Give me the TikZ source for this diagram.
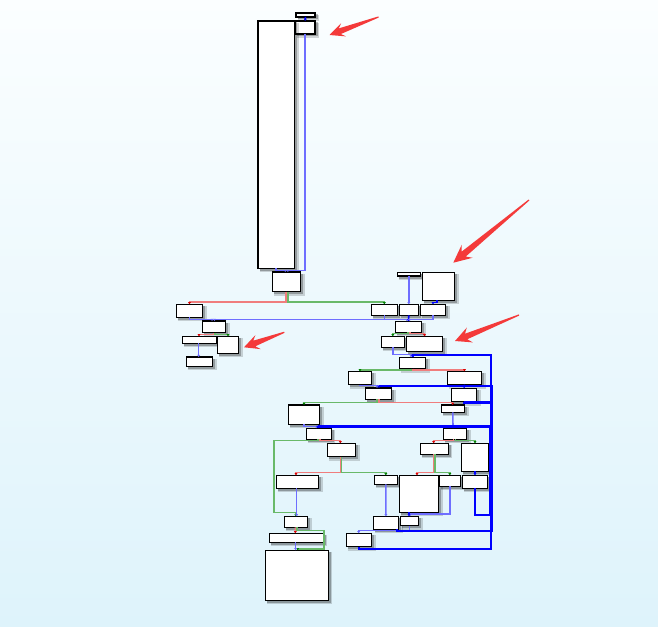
\documentclass[tikz,border=0pt]{standalone}
\usetikzlibrary{calc,arrows.meta}
\definecolor{lb}{RGB}{110,110,255}
\definecolor{db}{RGB}{0,0,255}
\definecolor{re}{RGB}{240,125,125}
\definecolor{gr}{RGB}{105,185,105}
\definecolor{arr}{RGB}{244,58,58}
\definecolor{bgtop}{RGB}{251,254,255}
\definecolor{bgbot}{RGB}{222,243,251}
\tikzset{
 box/.style={draw=black, line width=1.05pt, fill=white, rectangle, inner sep=0pt, outer sep=0pt},
 shadowA/.style={fill=black, opacity=0.16},
 shadowB/.style={fill=black, opacity=0.26},
 etip/.style={-{Triangle[length=2.2pt,width=2.8pt]}},
 elb/.style={draw=lb, line width=1.55pt, etip},
 edb/.style={draw=db, line width=1.6pt, etip},
 edbT/.style={draw=db, line width=2.3pt, -{Triangle[length=2.5pt,width=3.5pt]}},
 ere/.style={draw=re, line width=1.55pt, -{Triangle[length=2.2pt,width=2.8pt,color=red!85!black]}},
 egr/.style={draw=gr, line width=1.55pt, -{Triangle[length=2.2pt,width=2.8pt,color=green!50!black]}},
}
\newcommand\bx[5]{%
 \fill[shadowA] (#2+2,#3+2) rectangle (#4+4,#5+4);
 \fill[shadowB] (#2+1.5,#3+1.5) rectangle (#4+2.5,#5+2.5);
 \node[box, minimum width={(#4-#2)*1pt}, minimum height={(#5-#3)*1pt}] (#1) at ({(#2+#4)/2},{(#3+#5)/2}) {};}
% tailx, taily, tipx, tipy, headlen, barb half width, notch dist, shaft half width
\newcommand\redarr[8]{%
 \fill[arr] (#3,#4)
  -- ($(#3,#4)!#5pt!(#1,#2)!#6pt!90:(#1,#2)$)
  -- ($(#3,#4)!#7pt!(#1,#2)!#8pt!90:(#1,#2)$)
  -- ($(#1,#2)!0.6pt!-90:(#3,#4)$)
  -- ($(#1,#2)!0.6pt!90:(#3,#4)$)
  -- ($(#3,#4)!#7pt!(#1,#2)!#8pt!-90:(#1,#2)$)
  -- ($(#3,#4)!#5pt!(#1,#2)!#6pt!-90:(#1,#2)$) -- cycle;}
\begin{document}
\begin{tikzpicture}[x=1pt,y=-1pt]
\shade[top color=bgtop, bottom color=bgbot] (0,0) rectangle (658,626);
\useasboundingbox (0,0) rectangle (658,626);
% boxes
\bx{B0}{296}{13}{315}{17}
\bx{B1}{295}{21}{315}{34}
\bx{T}{258}{21}{294.5}{268.3}
\bx{B2}{272.3}{272}{300.5}{291.5}
\bx{B3}{176.3}{304.3}{202.7}{317.3}
\bx{B4}{202.3}{321}{225.7}{332.7}
\bx{B5}{182.3}{336.3}{216.7}{343.3}
\bx{B6}{217.3}{336.3}{238.7}{353.3}
\bx{B7}{186.3}{357}{212.7}{366.3}
\bx{R0}{397.3}{272.3}{420.3}{276}
\bx{Rb}{422.3}{272.3}{454.7}{300.3}
\bx{R1}{371.3}{304.3}{397.3}{315.3}
\bx{R2}{399.3}{304.3}{418.3}{315.3}
\bx{R3}{420.3}{304.3}{445.7}{315.3}
\bx{R4}{395.3}{321.3}{421.7}{332.3}
\bx{R5}{381.3}{336.3}{404.3}{347.3}
\bx{R6}{406.3}{336.3}{442.7}{351.3}
\bx{C0}{399.3}{357.3}{425.7}{368.7}
\bx{C1}{348.3}{371.3}{371.7}{384.7}
\bx{C2}{447.3}{371.3}{481.7}{384.7}
\bx{C3}{365.3}{388}{391.7}{399.3}
\bx{C5}{451.3}{388.3}{476.7}{401.5}
\bx{C4}{288.3}{405}{319.7}{424.3}
\bx{C6}{441.3}{405}{464.5}{412.3}
\bx{D0}{306.3}{428.3}{331.3}{439.3}
\bx{E0}{443.3}{428.3}{466.7}{439.3}
\bx{D1}{327.3}{443.3}{355.7}{456.7}
\bx{E1}{420.3}{443.3}{448.3}{454.3}
\bx{E2}{461.3}{443.3}{488.7}{471.3}
\bx{D2}{276.3}{475.3}{318.7}{488.3}
\bx{D4}{374.3}{475.3}{397.3}{484.3}
\bx{D5}{399.3}{475.3}{438.7}{512.3}
\bx{E3}{439.3}{475.3}{460.3}{486.3}
\bx{E4}{462.3}{475.3}{487.7}{488.3}
\bx{D3}{284.3}{516.3}{307.5}{527.3}
\bx{D6}{373.3}{516.3}{398.5}{529.3}
\bx{D7}{400.3}{516.3}{418.5}{525.5}
\bx{D8}{346.3}{533.3}{371.7}{546.5}
\bx{D9}{269.3}{533.3}{323.3}{542.3}
\bx{D10}{265.3}{550.3}{328.3}{600.3}
% edges, upper part
\draw[edb] (B0.south) -- (B1.north);
\draw[elb] (B1.south) -- ++(0,236.7) -| ([xshift=1.5]B2.north);
\draw[elb] (T.south) -- ++(0,2.4) -| ([xshift=-1.2]B2.north);
\draw[ere] ([xshift=-0.4]B2.south) -- ++(0,10.5) -| (B3.north);
\draw[egr] ([xshift=1.6]B2.south) -- ++(0,10.5) -| (R1.north);
\draw[elb] (B3.south) -- ++(0,2.2) -| ([xshift=-2]B4.north);
\draw[elb] (R1.south) -- ++(0,4.2) -| ([xshift=0.5]B4.north);
\draw[elb] (R1.south) -- ++(0,4.2) -| ([xshift=-1.5]R4.north);
\draw[ere] ([xshift=-0.7]B4.south) -- ++(0,1.6) -| ([xshift=-0.5]B5.north);
\draw[egr] ([xshift=0.8]B4.south) -- ++(0,1.6) -| (B6.north);
\draw[elb] ([xshift=-0.8]B5.south) -- ([xshift=-0.8]B7.north);
\draw[elb] (R0.south) -- (R2.north);
\draw[edb] ([xshift=-1.5]Rb.south) -- ++(0,2.2) -| (R3.north);
\draw[edb] (R2.south) -- (R4.north);
\draw[elb] (R3.south) -- ++(0,4.2) -| ([xshift=1]R4.north);
\draw[egr] ([xshift=-0.5]R4.south) -- ++(0,1.4) -| (R5.north);
\draw[ere] ([xshift=1.5]R4.south) -- ++(0,1.4) -| (R6.north);
\draw[elb] (R5.south) -- ++(0,7.4) -| ([xshift=-1.5]C0.north);
% middle
\draw[egr] ([xshift=-1.5]C0.south) -- ++(0,1.3) -| (C1.north);
\draw[ere] ([xshift=0.5]C0.south) -- ++(0,1.3) -| (C2.north);
\draw[elb] (C1.south) -- ++(0,1.0) -| ([xshift=-1.5]C3.north);
\draw[edb] (C2.south) -- (C5.north);
\draw[egr] ([xshift=-1.5]C3.south) -- ++(0,3.4) -| (C4.north);
\draw[ere] ([xshift=0.5]C3.south) -- ++(0,3.4) -| ([xshift=-0.2]C6.north);
\draw[elb] (C4.south) -- ++(0,2) -| ([xshift=-2.5]D0.north);
\draw[elb] (C6.south) -- ([xshift=-2]E0.north);
% lower
\draw[egr] ([xshift=-0.8]D0.south) -- ++(0,1.4) -| (274,512.3) -| (D3.north);
\draw[ere] ([xshift=1]D0.south) -- ++(0,1.4) -| ([xshift=-1.2]D1.north);
\draw[ere] ([xshift=-1.2]D1.south) -- ++(0,15.6) -| ([xshift=-1.5]D2.north);
\draw[egr] ([xshift=0.2]D1.south) -- ++(0,15.6) -| (D4.north);
\draw[elb] ([xshift=-0.8]D2.south) -- ([xshift=0.8]D3.north);
\draw[elb] (D4.south) -- (D6.north);
\draw[ere] ([xshift=-1.3]E0.south) -- ++(0,1.4) -| ([xshift=-0.6]E1.north);
\draw[egr] ([xshift=0.3]E0.south) -- ++(0,1.4) -| (E2.north);
\draw[ere] ([xshift=-0.6]E1.south) -- ++(0,18) -| ([xshift=-2]D5.north);
\draw[egr] ([xshift=0.7]E1.south) -- ++(0,18) -| (E3.north);
\draw[edb] (E2.south) -- (E4.north);
\draw[elb] (E3.south) -- ++(0,27.7) -| ([xshift=0.6]D7.north);
\draw[edb] ([xshift=-10]D5.south) -- ([xshift=-0.4]D7.north);
\draw[elb] (D7.south) -- ++(0,5.2) -| ([xshift=-0.3]D8.north);
\draw[ere] ([xshift=-0.6]D3.south) -- ([xshift=-1]D9.north);
\draw[egr] ([xshift=1.1]D3.south) -- ++(0,3.4) -| (324,549) -| ([xshift=0.9]D10.north);
\draw[elb] ([xshift=-0.6]D9.south) -- ([xshift=-1.1]D10.north);
% back edges (right margin)
\draw[edbT] (E4.south) -- ++(0,26.7) -| (489.8,426.5) -| ([xshift=-0.8]D0.north);
\draw[edbT] ([xshift=10.8]D6.south) -- ++(0,1.5) -| (491.4,385.7) -| ([xshift=0.5]C3.north);
\draw[edbT] (C5.south) -- ++(0,1) -| (490.7,354.7) -| ([xshift=0.5]C0.north);
\draw[edbT] (D8.south) -- ++(0,2.5) -| (490.7,354.7) -| ([xshift=0.5]C0.north);
% red annotation arrows
\redarr{378.5}{17}{329.5}{35}{15}{7}{11}{3}
\redarr{529}{200}{453.3}{262.7}{18}{8.5}{13.5}{3.2}
\redarr{519}{315}{455}{341}{16}{8}{12}{3}
\redarr{284.3}{332.3}{244}{347.3}{15}{7.5}{11}{3}
\end{tikzpicture}
\end{document}
